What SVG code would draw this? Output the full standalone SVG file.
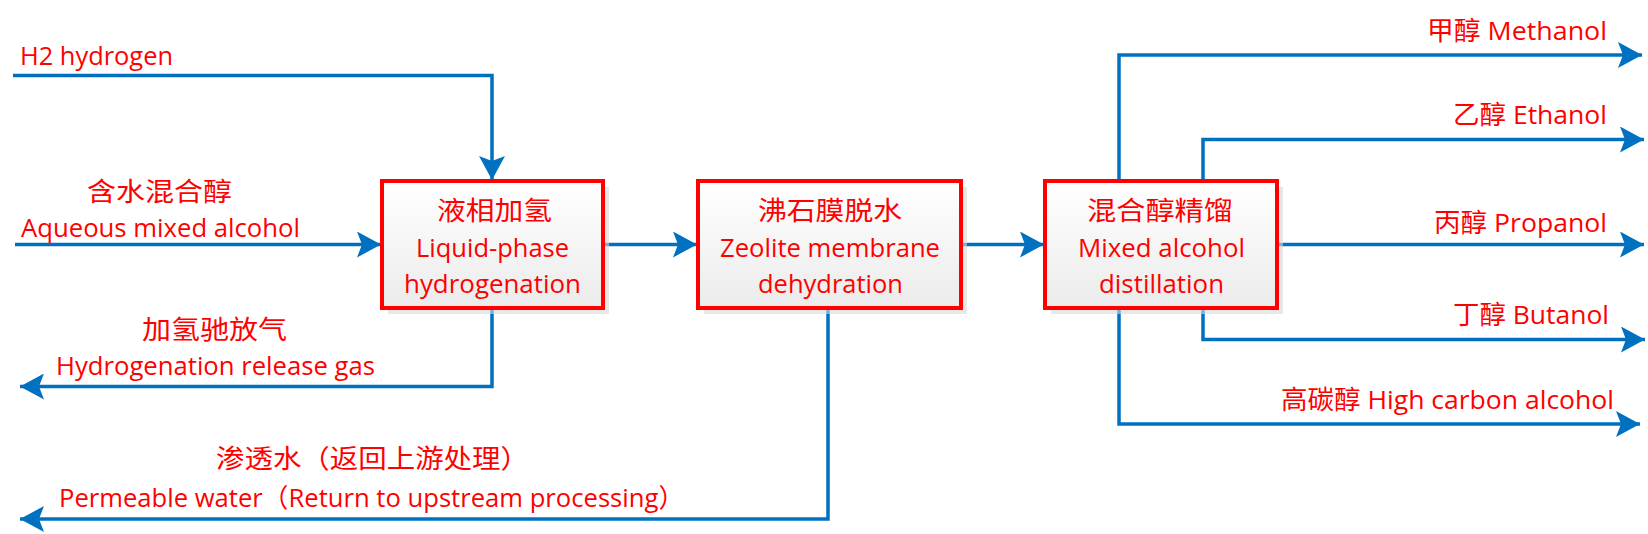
<svg xmlns="http://www.w3.org/2000/svg" width="1648" height="534" viewBox="0 0 1648 534">
<style>
.c{fill:none;stroke:#0070C0;stroke-width:3.5;marker-end:url(#ah)}
.t{fill:#FF0000;font-family:"Open Sans","Noto Sans CJK SC",sans-serif;font-size:26px}
.b{fill:url(#g);stroke:#FF0000;stroke-width:4}
.s{fill:#d9d9d9;opacity:0.6}
</style>
<defs>
<linearGradient id="g" x1="0" y1="0" x2="0" y2="1"><stop offset="0" stop-color="#ffffff"/><stop offset="1" stop-color="#ebebeb"/></linearGradient>
<marker id="ah" markerUnits="userSpaceOnUse" markerWidth="26" markerHeight="26" viewBox="0 0 26 26" refX="24" refY="13" orient="auto"><path d="M0,0 L24,13 L0,26 L5,13 Z" fill="#0070C0"/></marker>
</defs>
<g id="connectors">
<path class="c" d="M13,75.5 H492 V180"/>
<path class="c" d="M15,244.5 H381"/>
<path class="c" d="M603,244.5 H697"/>
<path class="c" d="M961,244.5 H1044"/>
<path class="c" d="M492,308 V386.5 H20"/>
<path class="c" d="M828,308 V519 H20"/>
<path class="c" d="M1119,181 V55 H1642"/>
<path class="c" d="M1203,181 V139.5 H1644"/>
<path class="c" d="M1277,244.5 H1644"/>
<path class="c" d="M1203,308 V339.5 H1645"/>
<path class="c" d="M1119,308 V424 H1640"/>
</g>
<g id="labels">
<text class="t" x="20" y="65" textLength="153" lengthAdjust="spacingAndGlyphs">H2 hydrogen</text>
<text class="t" x="87" y="201" textLength="145" lengthAdjust="spacingAndGlyphs">含水混合醇</text>
<text class="t" x="21" y="237" textLength="279" lengthAdjust="spacingAndGlyphs">Aqueous mixed alcohol</text>
<text class="t" x="142" y="339" textLength="145" lengthAdjust="spacingAndGlyphs">加氢驰放气</text>
<text class="t" x="56" y="375" textLength="319" lengthAdjust="spacingAndGlyphs">Hydrogenation release gas</text>
<text class="t" x="216" y="468" textLength="313" lengthAdjust="spacingAndGlyphs">渗透水（返回上游处理）</text>
<text class="t" x="59" y="507" textLength="625" lengthAdjust="spacingAndGlyphs">Permeable water（Return to upstream processing）</text>
<text class="t" x="1427" y="40" textLength="180" lengthAdjust="spacingAndGlyphs">甲醇 Methanol</text>
<text class="t" x="1453" y="124" textLength="154" lengthAdjust="spacingAndGlyphs">乙醇 Ethanol</text>
<text class="t" x="1434" y="231.5" textLength="173" lengthAdjust="spacingAndGlyphs">丙醇 Propanol</text>
<text class="t" x="1453" y="323.5" textLength="156" lengthAdjust="spacingAndGlyphs">丁醇 Butanol</text>
<text class="t" x="1281" y="409" textLength="333" lengthAdjust="spacingAndGlyphs">高碳醇 High carbon alcohol</text>
</g>
<g id="n1">
<rect class="s" x="388" y="187" width="221" height="127"/>
<rect class="b" x="382" y="181" width="221" height="127"/>
<text class="t" x="437" y="220" textLength="115" lengthAdjust="spacingAndGlyphs">液相加氢</text>
<text class="t" x="416" y="257" textLength="153" lengthAdjust="spacingAndGlyphs">Liquid-phase</text>
<text class="t" x="404" y="293" textLength="177" lengthAdjust="spacingAndGlyphs">hydrogenation</text>
</g>
<g id="n2">
<rect class="s" x="704" y="187" width="263" height="127"/>
<rect class="b" x="698" y="181" width="263" height="127"/>
<text class="t" x="758" y="220" textLength="144" lengthAdjust="spacingAndGlyphs">沸石膜脱水</text>
<text class="t" x="720" y="257" textLength="220" lengthAdjust="spacingAndGlyphs">Zeolite membrane</text>
<text class="t" x="758" y="293" textLength="145" lengthAdjust="spacingAndGlyphs">dehydration</text>
</g>
<g id="n3">
<rect class="s" x="1051" y="187" width="232" height="127"/>
<rect class="b" x="1045" y="181" width="232" height="127"/>
<text class="t" x="1087" y="220" textLength="146" lengthAdjust="spacingAndGlyphs">混合醇精馏</text>
<text class="t" x="1078" y="257" textLength="167" lengthAdjust="spacingAndGlyphs">Mixed alcohol</text>
<text class="t" x="1099" y="293" textLength="125" lengthAdjust="spacingAndGlyphs">distillation</text>
</g>
</svg>
